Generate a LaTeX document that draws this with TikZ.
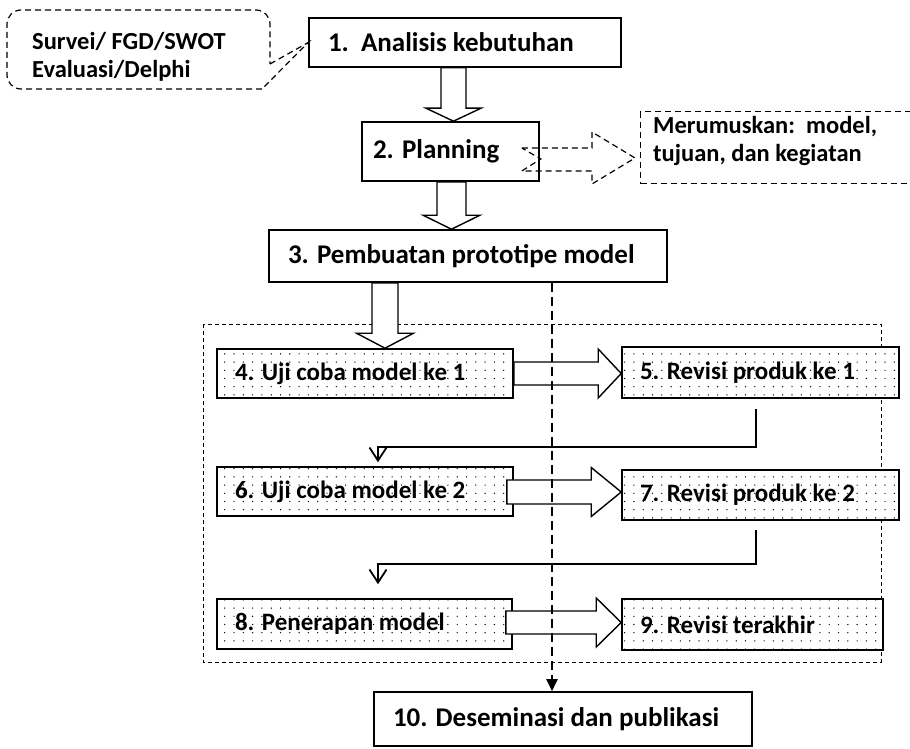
\documentclass[tikz,border=0pt]{standalone}
\usepackage{fontspec}
\setmainfont{Carlito}
\usetikzlibrary{arrows.meta,calc,patterns}

% sparse dot texture for the trial/revision boxes
\pgfdeclarepatternformonly{sparsedots}{\pgfqpoint{-1pt}{-1pt}}{\pgfqpoint{10pt}{9pt}}{\pgfqpoint{9.3pt}{8.2pt}}%
  {\pgfpathcircle{\pgfqpoint{1.5pt}{1.5pt}}{0.7pt}\pgfusepath{fill}}

% hollow block arrow pointing down: from, to, x, shaft half width, head half width, head length
\newcommand{\blockdown}[6]{%
  \draw[blockarrow] let \p1=(#1.south), \p2=(#2.north) in
    ({#3pt-#4pt},\y1) -- ({#3pt-#4pt},{\y2+#6pt}) -- ({#3pt-#5pt},{\y2+#6pt})
    -- (#3pt,\y2) -- ({#3pt+#5pt},{\y2+#6pt}) -- ({#3pt+#4pt},{\y2+#6pt})
    -- ({#3pt+#4pt},\y1) -- cycle;}
% hollow block arrow pointing right: from, to, y, shaft half width, head half width, head length, inset
\newcommand{\blockright}[7]{%
  \draw[blockarrow] let \p1=(#1.east), \p2=(#2.west) in
    ({\x1-#7pt},{-#3pt+#4pt}) -- ({\x2-#6pt},{-#3pt+#4pt}) -- ({\x2-#6pt},{-#3pt+#5pt})
    -- (\x2,{-#3pt}) -- ({\x2-#6pt},{-#3pt-#5pt}) -- ({\x2-#6pt},{-#3pt-#4pt})
    -- ({\x1-#7pt},{-#3pt-#4pt}) -- cycle;}

\begin{document}
\begin{tikzpicture}[x=1pt,y=-1pt,
  bigtext/.style={font=\fontsize{27}{29}\selectfont\bfseries},
  smalltext/.style={font=\fontsize{25}{27}\selectfont\bfseries},
  notetext/.style={font=\fontsize{24.5}{28}\selectfont\bfseries},
  boxdim/.style n args={3}{text width=#1pt, minimum height=#2pt, inner xsep=#3pt, inner ysep=0pt, align=flush left},
  plainbox/.style={draw, line width=1.6pt, fill=white, bigtext},
  dotbox/.style={draw, line width=1.6pt, preaction={fill=white}, pattern=sparsedots, smalltext},
  blockarrow/.style={draw, line width=1.4pt, fill=white, line join=miter},
  elbow/.style={line width=1.8pt, -{Straight Barb[length=13pt,width=17pt]}},
  flowdash/.style={line width=2pt, dash pattern=on 9pt off 5pt, -{Triangle[length=12pt,width=11pt]}},
  notedash/.style={line width=1.2pt, dash pattern=on 6pt off 4pt},
  groupdash/.style={line width=0.9pt, dash pattern=on 4pt off 3pt},
]
\useasboundingbox (0,0) rectangle (910,749);

% frame around the trial and revision cycle
\draw[groupdash] (203,324) rectangle (881,662);

% main steps
\node[plainbox, boxdim={274}{49}{19}] (s1) at (465,42.5) {1.\ \ Analisis kebutuhan};
\node[plainbox, boxdim={155}{59}{11}] (s2) at (450.5,151.5) {2. Planning};
\node[plainbox, boxdim={360}{52}{19}] (s3) at (468,256) {3. Pembuatan prototipe model};
\node[dotbox, boxdim={260}{49}{18}] (s4) at (365,373.5) {4. Uji coba model ke 1};
\node[dotbox, boxdim={241}{51}{18}] (s5) at (760.5,372.5) {5. Revisi produk ke 1};
\node[dotbox, boxdim={260}{49}{18}] (s6) at (365,491.5) {6. Uji coba model ke 2};
\node[dotbox, boxdim={241}{50}{18}] (s7) at (760.5,495) {7. Revisi produk ke 2};
\node[dotbox, boxdim={259}{50}{18}] (s8) at (364.5,624) {8. Penerapan model};
\node[dotbox, boxdim={225}{51}{18}] (s9) at (752.5,624.5) {9. Revisi terakhir};
\node[plainbox, boxdim={340}{54}{19}] (s10) at (563,719) {10. Deseminasi dan publikasi};

% side notes
\node[notetext, align=left, inner sep=0pt, anchor=west] (tools) at (32,57) {Survei/ FGD/SWOT\\Evaluasi/Delphi};
\draw[notedash, rounded corners=14] (262,89) -- (7,89) -- (7,10) -- (270,10) -- (270,64);
\draw[notedash] (270,64) -- (s1.west) -- (262,89);

\node[draw, notedash, minimum width=274pt, minimum height=72pt, anchor=north west, inner sep=0pt] (notebox) at (640,111) {};
\node[notetext, align=left, inner sep=0pt, anchor=north west] (note) at (653,116) {Merumuskan:\ \ model,\\tujuan, dan kegiatan};

% hollow block arrows between steps
\blockdown{s1}{s2}{453.5}{12.5}{27.5}{13}
\blockdown{s2}{s3}{451.5}{14.5}{28.5}{14}
\blockdown{s3}{s4}{385}{13}{28.5}{15}
\blockright{s4}{s5}{373.5}{11.5}{24.5}{23}{0}
\blockright{s6}{s7}{492}{12}{24.5}{30}{7}
\blockright{s8}{s9}{622.5}{11.5}{24.5}{25}{7}

% dashed notched arrow from planning to its note
\draw[notedash, line join=miter] let \p1=(s2.east), \p2=(notebox.west) in
  ({\x1-18pt},-148pt) -- ({\x2-48pt},-148pt) -- ({\x2-48pt},-132pt) -- ({\x2-5pt},-158pt)
  -- ({\x2-48pt},-184pt) -- ({\x2-48pt},-171pt) -- ({\x1-18pt},-171pt) -- ({\x1+1pt},-159pt) -- cycle;

% return paths from each revision to the next trial
\draw[elbow] ($(756,0 |- s5.south)+(0,10)$) -- ++(0,38) -| ($(378,0 |- s6.north)+(0,-4)$);
\draw[elbow] ($(756,0 |- s7.south)+(0,9)$) -- ++(0,34) -| ($(378,0 |- s8.north)+(0,-14)$);

% prototype goes straight on to dissemination
\draw[flowdash] (552,0 |- s3.south) -- (552,0 |- s10.north);
\end{tikzpicture}
\end{document}
